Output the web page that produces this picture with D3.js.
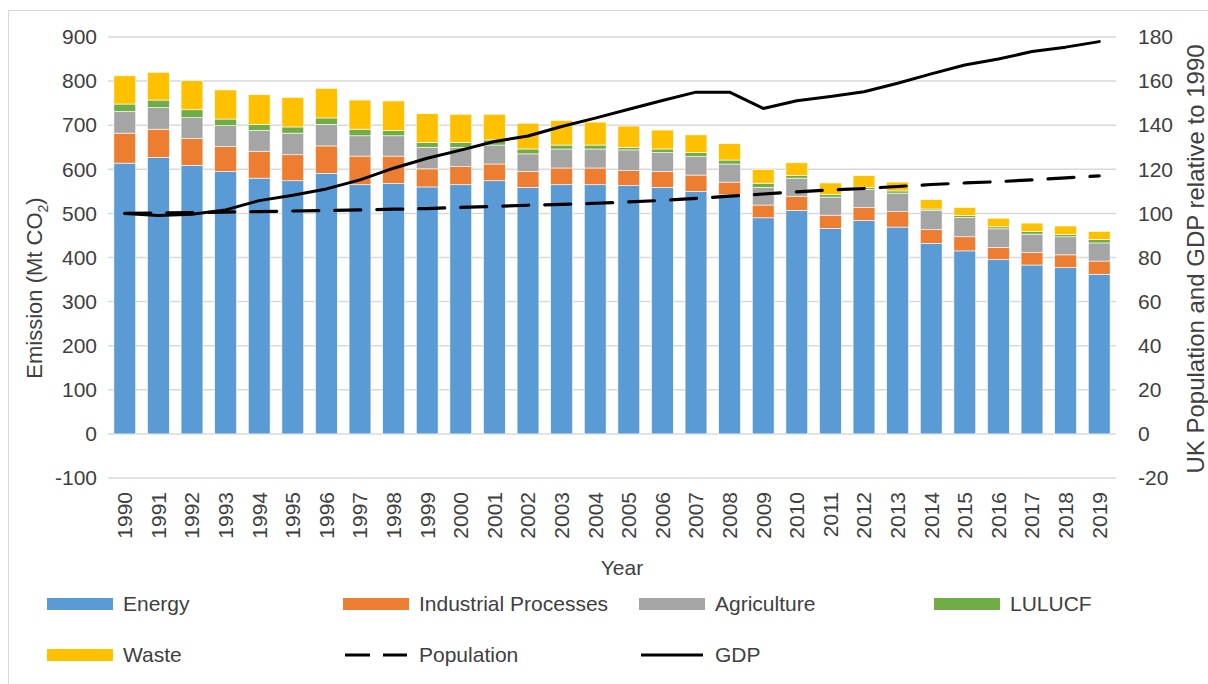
<!DOCTYPE html>
<html>
<head>
<meta charset="utf-8">
<script src="https://cdn.jsdelivr.net/npm/d3@7"></script>
<style>
  body { margin: 0; background: #fff; }
  svg { display: block; font-family: "Liberation Sans", Arial, sans-serif; }
</style>
</head>
<body>
<div id="chart"></div>
<script>
// UK greenhouse gas emissions by sector, with population and GDP (1990 = 100)

const years = d3.range(1990, 2020).map(String);

const energy      = [614, 627, 609, 595, 580, 574, 591, 565, 568, 560, 565, 574, 559, 565, 565, 563, 559, 550, 542, 490, 507, 466, 484, 469, 432, 415, 395, 383, 377, 362];
const industrial  = [68, 64, 61, 57, 61, 59, 62, 65, 62, 41, 41, 38, 36, 38, 38, 34, 36, 37, 29, 29, 32, 30, 29, 35, 31, 32, 28, 28, 29, 30];
const agriculture = [49, 49, 47, 47, 47, 49, 49, 46, 46, 49, 44, 43, 40, 43, 43, 47, 43, 42, 41, 40, 41, 41, 41, 42, 44, 44, 42, 42, 41, 41];
const lulucf      = [17, 17, 18, 15, 14, 14, 14.5, 15, 12, 11, 10.6, 11.7, 11, 9, 9, 6, 8, 9, 9, 9.5, 5.7, 6, 5.4, 5, 3, 4.5, 4.5, 6, 5.4, 8.2];
const waste       = [64, 63, 66, 66, 67, 67, 67, 66, 67, 65, 64, 58, 58.5, 55.5, 52, 48, 43, 40, 37, 31, 29, 26, 26, 20, 21, 18, 19.5, 19, 19, 18];

const population = [100, 100.2, 100.4, 100.6, 100.8, 101.1, 101.3, 101.6, 101.9, 102.2, 102.7, 103.2, 103.7, 104.1, 104.6, 105.2, 105.9, 106.8, 107.8, 108.8, 109.8, 110.6, 111.3, 112.2, 113.1, 113.8, 114.4, 115.2, 116.1, 117];
const gdp        = [100, 99, 99.6, 101.6, 105.8, 108.2, 111.1, 115.2, 120.5, 125, 128.7, 132.6, 135.1, 139.4, 143.2, 147.2, 151.2, 155, 155, 147.6, 151.1, 153, 155.2, 159, 163.3, 167.3, 170, 173.4, 175.4, 177.9];

const sectorNames  = ["Energy", "Industrial Processes", "Agriculture", "LULUCF", "Waste"];
const sectorColors = ["#5b9bd5", "#ed7d31", "#a5a5a5", "#70ad47", "#ffc000"];
const leftTicks  = [-100, 0, 100, 200, 300, 400, 500, 600, 700, 800, 900];
const rightTicks = [-20, 0, 20, 40, 60, 80, 100, 120, 140, 160, 180];

const width = 1208, height = 684;
const plot = { left: 108, right: 1116, top: 37, bottom: 478 };
const textColor = "#404040";

const rows = years.map((y, i) => ({
  year: y,
  "Energy": energy[i],
  "Industrial Processes": industrial[i],
  "Agriculture": agriculture[i],
  "LULUCF": lulucf[i],
  "Waste": waste[i]
}));

const svg = d3.select("#chart").append("svg")
  .attr("width", width)
  .attr("height", height);

// outer chart border
svg.append("rect")
  .attr("x", 8.5).attr("y", 10.5)
  .attr("width", width + 20).attr("height", height + 20)
  .attr("fill", "none")
  .attr("stroke", "#d9d9d9")
  .attr("stroke-width", 1);

const x = d3.scaleBand()
  .domain(years)
  .range([plot.left, plot.right])
  .paddingInner(0.35)
  .paddingOuter(0.175);

const yL = d3.scaleLinear().domain([-100, 900]).range([plot.bottom, plot.top]);
const yR = d3.scaleLinear().domain([-20, 180]).range([plot.bottom, plot.top]);

// gridlines
svg.append("g")
  .selectAll("line")
  .data(leftTicks)
  .join("line")
  .attr("x1", plot.left).attr("x2", plot.right)
  .attr("y1", d => yL(d)).attr("y2", d => yL(d))
  .attr("stroke", "#d9d9d9")
  .attr("stroke-width", 1.5);

// stacked bars
const stack = d3.stack().keys(sectorNames);
const layers = stack(rows);

svg.append("g")
  .selectAll("g")
  .data(layers)
  .join("g")
  .attr("fill", (d, i) => sectorColors[i])
  .selectAll("rect")
  .data(d => d)
  .join("rect")
  .attr("x", d => x(d.data.year))
  .attr("width", x.bandwidth())
  .attr("y", d => yL(d[1]))
  .attr("height", d => yL(d[0]) - yL(d[1]))
  .attr("stroke", "#fff")
  .attr("stroke-width", 0.6);

// lines
const line = d3.line()
  .x((d, i) => x(years[i]) + x.bandwidth() / 2)
  .y(d => yR(d));

svg.append("path")
  .datum(population)
  .attr("d", line)
  .attr("fill", "none")
  .attr("stroke", "#000")
  .attr("stroke-width", 3.2)
  .attr("stroke-dasharray", "26 16")
  .attr("stroke-linecap", "round");

svg.append("path")
  .datum(gdp)
  .attr("d", line)
  .attr("fill", "none")
  .attr("stroke", "#000")
  .attr("stroke-width", 3)
  .attr("stroke-linejoin", "round")
  .attr("stroke-linecap", "round");

// axes (plain hyphen for negatives, as in the original)
const plain = d => String(d);

const axisL = svg.append("g")
  .attr("transform", `translate(${plot.left},0)`)
  .call(d3.axisLeft(yL).tickValues(leftTicks).tickFormat(plain).tickSize(0).tickPadding(11));

const axisR = svg.append("g")
  .attr("transform", `translate(${plot.right},0)`)
  .call(d3.axisRight(yR).tickValues(rightTicks).tickFormat(plain).tickSize(0).tickPadding(22));

const axisB = svg.append("g")
  .attr("transform", `translate(0,${plot.bottom})`)
  .call(d3.axisBottom(x).tickSize(0).tickPadding(0));

[axisL, axisR, axisB].forEach(a => {
  a.select(".domain").remove();
  a.selectAll("text")
    .attr("fill", textColor)
    .style("font-size", "21px")
    .style("font-family", "'Liberation Sans', Arial, sans-serif");
});

axisB.selectAll("text")
  .attr("transform", "rotate(-90)")
  .attr("text-anchor", "end")
  .attr("x", -14)
  .attr("y", 0)
  .attr("dy", "0.35em");

// axis titles
const leftTitle = svg.append("text")
  .attr("transform", "translate(42,288) rotate(-90)")
  .attr("text-anchor", "middle")
  .attr("fill", textColor)
  .style("font-size", "22px");
leftTitle.append("tspan").text("Emission (Mt CO");
leftTitle.append("tspan").text("2").attr("dy", "6").style("font-size", "14px");
leftTitle.append("tspan").text(")").attr("dy", "-6");

svg.append("text")
  .attr("transform", "translate(1196,259) rotate(-90)")
  .attr("text-anchor", "middle")
  .attr("dy", "0.35em")
  .attr("fill", textColor)
  .style("font-size", "24px")
  .text("UK Population and GDP relative to 1990");

svg.append("text")
  .attr("x", 622).attr("y", 568)
  .attr("text-anchor", "middle")
  .attr("dy", "0.35em")
  .attr("fill", textColor)
  .style("font-size", "21px")
  .text("Year");

// legend
const legendItems = [
  { name: "Energy", type: "rect", color: sectorColors[0], col: 0, row: 0 },
  { name: "Industrial Processes", type: "rect", color: sectorColors[1], col: 1, row: 0 },
  { name: "Agriculture", type: "rect", color: sectorColors[2], col: 2, row: 0 },
  { name: "LULUCF", type: "rect", color: sectorColors[3], col: 3, row: 0 },
  { name: "Waste", type: "rect", color: sectorColors[4], col: 0, row: 1 },
  { name: "Population", type: "dash", col: 1, row: 1 },
  { name: "GDP", type: "line", col: 2, row: 1 }
];
const legendX = [47, 343, 639, 934];
const legendY = [604, 655];

const lg = svg.append("g")
  .selectAll("g")
  .data(legendItems)
  .join("g")
  .attr("transform", d => `translate(${legendX[d.col]},${legendY[d.row]})`);

lg.filter(d => d.type === "rect")
  .append("rect")
  .attr("x", 0).attr("y", -6)
  .attr("width", 66).attr("height", 12)
  .attr("fill", d => d.color);

lg.filter(d => d.type !== "rect")
  .append("line")
  .attr("x1", 2).attr("x2", 64)
  .attr("stroke", "#000")
  .attr("stroke-width", 3.2)
  .attr("stroke-dasharray", d => d.type === "dash" ? "25 13" : null);

lg.append("text")
  .attr("x", 76)
  .attr("dy", "0.35em")
  .attr("fill", textColor)
  .style("font-size", "21px")
  .text(d => d.name);
</script>
</body>
</html>
